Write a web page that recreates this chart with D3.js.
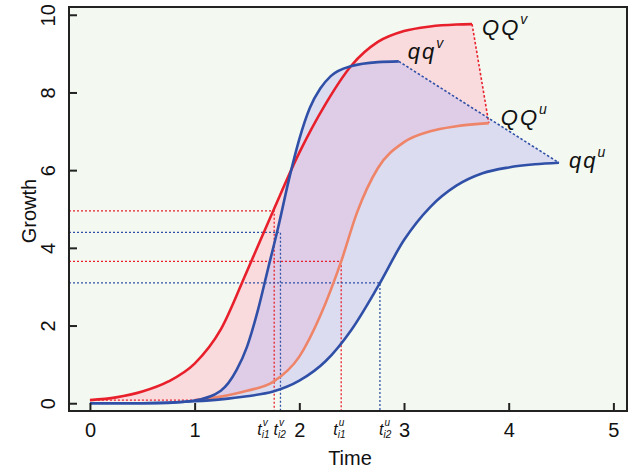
<!DOCTYPE html>
<html>
<head>
<meta charset="utf-8">
<script src="https://cdn.jsdelivr.net/npm/d3@7"></script>
<style>
  body { margin: 0; background: #fff; }
  text { font-family: "Liberation Sans", Arial, sans-serif; fill: #111; }
</style>
</head>
<body>
<div id="chart"></div>
<script>
// curves: [time, growth]
const QQv = [[0, 0.08], [0.25, 0.15], [0.5, 0.3], [0.75, 0.56], [1.0, 1.02], [1.25, 1.9], [1.5, 3.4],
  [1.75, 4.95], [2.0, 6.45], [2.25, 7.7], [2.5, 8.7], [2.75, 9.3], [3.0, 9.58], [3.25, 9.7], [3.5, 9.75], [3.65, 9.76]];
const QQu = [[0, 0.05], [0.5, 0.05], [1.0, 0.08], [1.25, 0.17], [1.5, 0.32], [1.75, 0.55], [2.0, 1.2],
  [2.2, 2.25], [2.4, 3.65], [2.55, 4.9], [2.75, 6.05], [3.0, 6.72], [3.25, 7.0], [3.5, 7.13], [3.81, 7.21]];
const qqv = [[0, 0], [0.5, 0], [0.75, 0.01], [1.0, 0.07], [1.25, 0.32], [1.4, 0.85], [1.5, 1.45], [1.6, 2.35],
  [1.7, 3.45], [1.8, 4.55], [1.9, 5.75], [2.0, 6.8], [2.1, 7.6], [2.2, 8.1], [2.3, 8.42], [2.5, 8.68], [2.75, 8.78], [2.95, 8.8]];
const qqu = [[0, 0], [0.5, 0], [1.0, 0.05], [1.25, 0.1], [1.5, 0.18], [1.75, 0.3], [2.0, 0.58], [2.25, 1.08],
  [2.5, 1.9], [2.75, 3.0], [3.0, 4.2], [3.25, 5.05], [3.5, 5.6], [3.75, 5.92], [4.0, 6.07], [4.25, 6.15], [4.48, 6.19]];

// inflection guides: time, growth, colour, label sup, label sub, label shift (px)
const guides = [
  { t: 1.76, v: 4.95, color: '#e8202c', sup: 'v', sub: 'i1', dx: -11 },
  { t: 1.82, v: 4.4, color: '#3050a8', sup: 'v', sub: 'i2', dx: -1 },
  { t: 2.40, v: 3.65, color: '#e8202c', sup: 'u', sub: 'i1', dx: -2 },
  { t: 2.77, v: 3.1, color: '#3050a8', sup: 'u', sub: 'i2', dx: 5 },
];

const xTicks = [0, 1, 2, 3, 4, 5];
const yTicks = [0, 2, 4, 6, 8, 10];

const width = 629;
const height = 471;

const x = d3.scaleLinear().domain([-0.2, 5.13]).range([69, 627]);
const y = d3.scaleLinear().domain([-0.2, 10.2]).range([411, 7]);

const red = '#e8202c';
const salmon = '#ee8468';
const blue = '#3050a8';

const svg = d3.select('#chart').append('svg')
  .attr('width', width)
  .attr('height', height);

// plot background
svg.append('rect')
  .attr('x', x.range()[0]).attr('y', y.range()[1])
  .attr('width', x.range()[1] - x.range()[0])
  .attr('height', y.range()[0] - y.range()[1])
  .attr('fill', '#f3f9f1');

const line = d3.line()
  .x(d => x(d[0]))
  .y(d => y(d[1]))
  .curve(d3.curveMonotoneX);

// closed band: upper curve forward, lower curve back
function band(upper, lower) {
  const back = lower.slice().reverse();
  return line(upper) + line(back).replace(/^M/, 'L') + 'Z';
}

svg.append('path')
  .attr('d', band(QQv, QQu))
  .attr('fill', 'rgb(255,189,203)')
  .attr('fill-opacity', 0.5);

svg.append('path')
  .attr('d', band(qqv, qqu))
  .attr('fill', 'rgb(197,191,239)')
  .attr('fill-opacity', 0.5);

// guide lines
const left = x.range()[0];
const bottom = y.range()[0];
guides.forEach(g => {
  svg.append('path')
    .attr('d', `M${left},${y(g.v)}H${x(g.t)}V${bottom}`)
    .attr('fill', 'none')
    .attr('stroke', g.color)
    .attr('stroke-width', 1.3)
    .attr('stroke-dasharray', '2,2');
});

// red dotted start line
svg.append('line')
  .attr('x1', x(0)).attr('x2', x(1.1))
  .attr('y1', y(0.08)).attr('y2', y(0.08))
  .attr('stroke', red)
  .attr('stroke-width', 1.3)
  .attr('stroke-dasharray', '2,2');

// end connectors
svg.append('line')
  .attr('x1', x(QQv[QQv.length - 1][0])).attr('y1', y(QQv[QQv.length - 1][1]))
  .attr('x2', x(QQu[QQu.length - 1][0])).attr('y2', y(QQu[QQu.length - 1][1]))
  .attr('stroke', red).attr('stroke-width', 1.6).attr('stroke-dasharray', '2.5,2');
svg.append('line')
  .attr('x1', x(qqv[qqv.length - 1][0])).attr('y1', y(qqv[qqv.length - 1][1]))
  .attr('x2', x(qqu[qqu.length - 1][0])).attr('y2', y(qqu[qqu.length - 1][1]))
  .attr('stroke', blue).attr('stroke-width', 1.6).attr('stroke-dasharray', '2.5,2');

// curves
function curve(data, color) {
  svg.append('path')
    .attr('d', line(data))
    .attr('fill', 'none')
    .attr('stroke', color)
    .attr('stroke-width', 2.6);
}
curve(QQu.filter(d => d[0] >= 1.0), salmon);
curve(qqu, blue);
curve(QQv, red);
curve(qqv, blue);

// axes with inward ticks
const xAxis = svg.append('g')
  .attr('transform', `translate(0,${bottom})`)
  .call(d3.axisBottom(x).tickValues(xTicks).tickFormat(d3.format('d'))
    .tickSizeInner(-8).tickSizeOuter(0).tickPadding(12));
const yAxis = svg.append('g')
  .attr('transform', `translate(${left},0)`)
  .call(d3.axisLeft(y).tickValues(yTicks).tickFormat(d3.format('d'))
    .tickSizeInner(-8).tickSizeOuter(0));

[xAxis, yAxis].forEach(a => {
  a.select('.domain').remove();
  a.selectAll('line').attr('stroke', '#222').attr('stroke-width', 2);
  a.selectAll('text').attr('font-size', 20).attr('font-family', '"Liberation Sans", Arial, sans-serif').attr('fill', '#111');
});
yAxis.selectAll('text')
  .attr('x', 0).attr('dy', 0)
  .attr('text-anchor', 'middle')
  .attr('transform', 'translate(-14,0) rotate(-90)');

// frame
svg.append('rect')
  .attr('x', x.range()[0]).attr('y', y.range()[1])
  .attr('width', x.range()[1] - x.range()[0])
  .attr('height', y.range()[0] - y.range()[1])
  .attr('fill', 'none')
  .attr('stroke', '#222')
  .attr('stroke-width', 2);

// axis titles
svg.append('text')
  .attr('x', 350).attr('y', 465)
  .attr('text-anchor', 'middle')
  .attr('font-size', 20)
  .text('Time');
svg.append('text')
  .attr('transform', 'translate(36,211) rotate(-90)')
  .attr('text-anchor', 'middle')
  .attr('font-size', 20)
  .text('Growth');

// inflection time labels
guides.forEach(g => {
  const gx = x(g.t) + g.dx;
  const lab = svg.append('g').attr('transform', `translate(${gx},437)`);
  lab.append('text')
    .attr('x', -6).attr('y', -2)
    .attr('font-size', 16).attr('font-style', 'italic')
    .text('t');
  lab.append('text')
    .attr('x', -0.5).attr('y', -11)
    .attr('font-size', 10).attr('font-style', 'italic')
    .text(g.sup);
  lab.append('text')
    .attr('x', -1.5).attr('y', 1)
    .attr('font-size', 10).attr('font-style', 'italic')
    .text(g.sub);
});

// curve end labels
const endLabels = [
  { data: QQv, base: 'QQ', sup: 'v', dx: 10, dy: 11 },
  { data: qqv, base: 'qq', sup: 'v', dx: 9, dy: -2 },
  { data: QQu, base: 'QQ', sup: 'u', dx: 12, dy: 2 },
  { data: qqu, base: 'qq', sup: 'u', dx: 10, dy: 5 },
];
endLabels.forEach(l => {
  const last = l.data[l.data.length - 1];
  const t = svg.append('text')
    .attr('x', x(last[0]) + l.dx)
    .attr('y', y(last[1]) + l.dy)
    .attr('font-size', 22)
    .attr('font-style', 'italic');
  t.append('tspan').attr('letter-spacing', 2).text(l.base);
  t.append('tspan').attr('font-size', 14).attr('dy', -11).text(l.sup);
});
</script>
</body>
</html>
